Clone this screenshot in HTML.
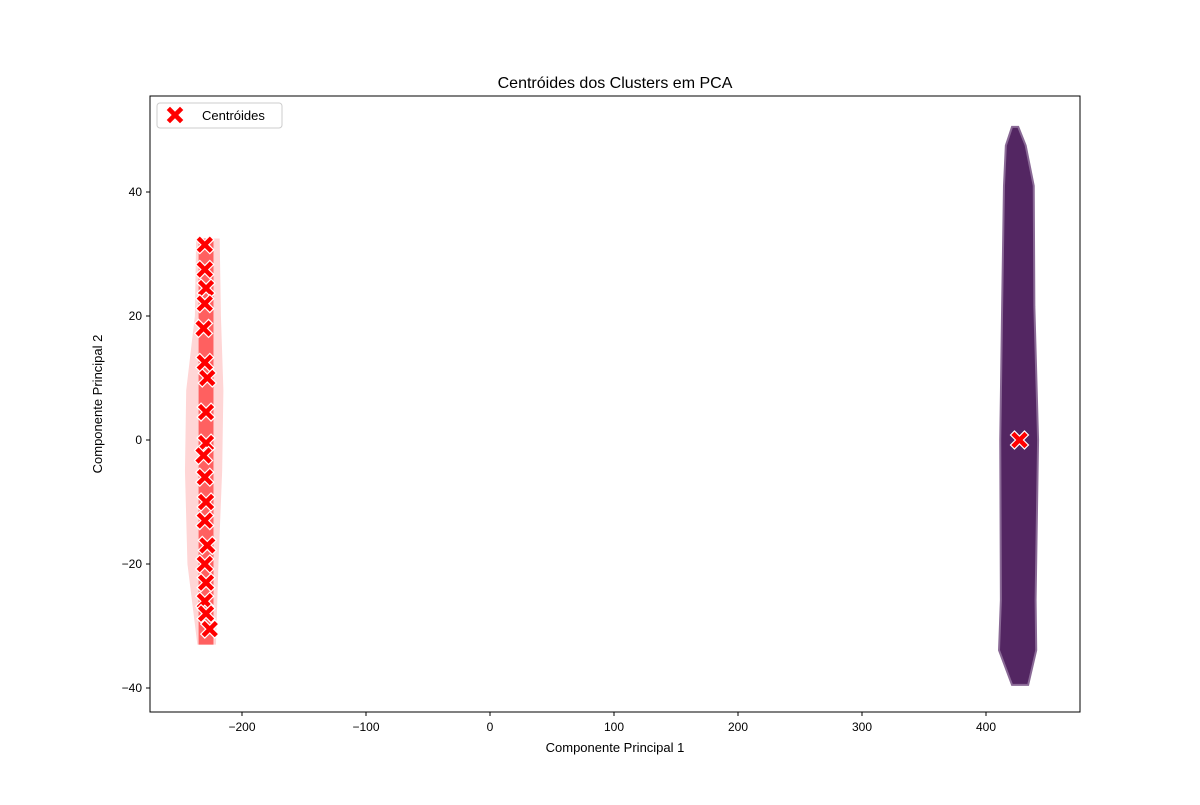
<!DOCTYPE html>
<html><head><meta charset="utf-8"><style>
body{margin:0;background:#fff;font-family:"Liberation Sans","DejaVu Sans",sans-serif;}
svg text{font-family:"Liberation Sans","DejaVu Sans",sans-serif;}
</style></head><body>
<svg id="c" width="1200" height="800" xmlns="http://www.w3.org/2000/svg">
<rect width="1200" height="800" fill="#fff"/>
<g id="plot"></g>
<rect x="150" y="96" width="930" height="616" fill="none" stroke="#000" stroke-width="1"/>
<text x="615" y="88" text-anchor="middle" font-size="16">Centróides dos Clusters em PCA</text>
<text x="615" y="752" text-anchor="middle" font-size="13">Componente Principal 1</text>
<text transform="translate(102,404) rotate(-90)" text-anchor="middle" font-size="13">Componente Principal 2</text>
<g id="ticks"></g>
<g>
<rect x="157" y="103" width="125" height="25" rx="3" fill="#fff" stroke="#ccc"/>
<path d="M166,110 l4,-4 l5,5 l5,-5 l4,4 l-5,5 l5,5 l-4,4 l-5,-5 l-5,5 l-4,-4 l5,-5z" fill="red" stroke="#fff" stroke-width="1"/>
<text x="202" y="120" font-size="13">Centróides</text>
</g>
</svg>
<script>
const xTicks=[-200,-100,0,100,200,300,400];
const yTicks=[-40,-20,0,20,40];
const leftX=[-230,-230,-229,-230,-231,-230,-228,-229,-229,-231,-230,-229,-230,-228,-230,-229,-230,-229,-226];
const leftY=[31.5,27.5,24.5,22,18,12.5,10,4.5,-0.5,-2.5,-6,-10,-13,-17,-20,-23,-26,-28,-30.5];
const profY=[50.5,47.5,41,21.5,0,-25.8,-33.9,-39.5];
const profMin=[421,416,414.5,413,411.5,412,410.5,421];
const profMax=[426,432,438.5,439,442,440,440.5,434];
const lprofY=[32.5,20,8,-5,-20,-33];
const lprofMin=[-237,-238,-245,-246,-244,-236];
const lprofMax=[-218,-217,-215,-216,-219,-221];
const centX=[427], centY=[0];
const sx=v=>490+v*1.24, sy=v=>440-v*6.2;
const NS="http://www.w3.org/2000/svg";
const plot=document.getElementById('plot'), tk=document.getElementById('ticks');
function mk(t,a,p){const e=document.createElementNS(NS,t);for(const k in a)e.setAttribute(k,a[k]);p.appendChild(e);return e;}
xTicks.forEach(v=>{const x=sx(v);
const l=mk('line',{x1:x,x2:x,y1:712,y2:716,stroke:'#000'},tk);


const t=mk('text',{x:x,y:731,'text-anchor':'middle','font-size':12},tk);t.textContent=String(v).replace('-','\u2212');

});
yTicks.forEach(v=>{const y=sy(v);
const l=mk('line',{x1:146,x2:150,y1:y,y2:y,stroke:'#000'},tk);


const t=mk('text',{x:142,y:y+4,'text-anchor':'end','font-size':12},tk);t.textContent=String(v).replace('-','\u2212');

});
function outline(Y,mn,mx){let pts=[];Y.forEach((y,i)=>pts.push(sx(mx[i])+','+sy(y)));for(let i=Y.length-1;i>=0;i--)pts.push(sx(mn[i])+','+sy(Y[i]));return pts.join(' ');}
const lp=mk('polygon',{points:outline(lprofY,lprofMin,lprofMax),fill:'#ffd6d6'},plot);


const lcore=mk('polygon',{points:outline(lprofY,lprofY.map(()=>-235),lprofY.map(()=>-223)),fill:'#ff6060'},plot);


const rp=mk('polygon',{points:outline(profY,profMin,profMax),fill:'#532662',stroke:'#8a6a96','stroke-width':2},plot);


function xmark(cx,cy){const d=`M${cx-9},${cy-5} l4,-4 l5,5 l5,-5 l4,4 l-5,5 l5,5 l-4,4 l-5,-5 l-5,5 l-4,-4 l5,-5z`;
return mk('path',{d:d,fill:'red',stroke:'#fff','stroke-width':1.2},plot);}
leftX.forEach((v,i)=>{const m=xmark(sx(v),sy(leftY[i]));

});
centX.forEach((v,i)=>{const m=xmark(sx(v),sy(centY[i]));

});
</script>
</body></html>
